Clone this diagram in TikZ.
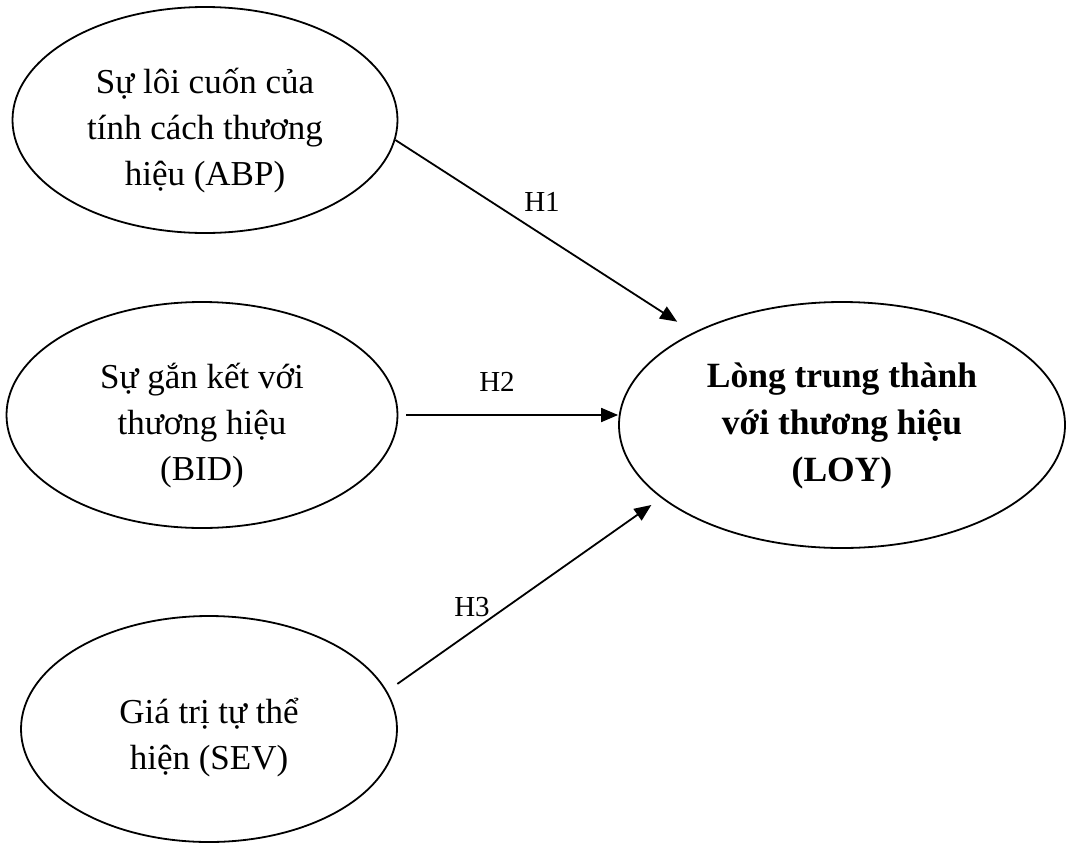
\documentclass[tikz,border=0pt]{standalone}
\usepackage{fontspec}
\setmainfont{Liberation Serif}
\usetikzlibrary{arrows.meta,shapes.geometric,calc}
\newcommand\loweredtext[2]{\raisebox{-#1}[\height][\depth]{\begin{tabular}{@{}c@{}}#2\end{tabular}}}
\begin{document}
\begin{tikzpicture}[x=1pt,y=-1pt,
  construct/.style={draw, ellipse, line width=1.8pt, inner sep=0pt,
    font=\fontsize{35}{46}\selectfont},
  arr/.style={line width=1.8pt, -{Triangle[length=17pt,width=14pt]}},
  hyp/.style={font=\fontsize{29}{34}\selectfont, inner sep=0pt}]
\useasboundingbox (0,0) rectangle (1066,844);
\node[construct, minimum width=385pt, minimum height=226pt] (abp) at (205,120)
  {\loweredtext{10pt}{Sự lôi cuốn của\\tính cách thương\\hiệu (ABP)}};
\node[construct, minimum width=391pt, minimum height=226pt] (bid) at (202,415)
  {\loweredtext{10pt}{Sự gắn kết với\\thương hiệu\\(BID)}};
\node[construct, minimum width=376pt, minimum height=226pt] (sev) at (209,729)
  {\loweredtext{8pt}{Giá trị tự thể\\hiện (SEV)}};
\node[construct, minimum width=446pt, minimum height=246pt,
  font=\bfseries\fontsize{35.5}{47}\selectfont] (loy) at (842,425)
  {\loweredtext{0pt}{Lòng trung thành\\với thương hiệu\\(LOY)}};
\draw[arr, shorten >=19.5pt] (abp.-6.9) -- (loy.148.4);
\draw[arr, shorten <=8pt] (bid.east) -- (bid.east -| loy.west);
\draw[arr, shorten <=12.5pt, shorten >=12pt] (sev.12.4) -- (loy.202.2);
\node[hyp] (h1) at (542,202) {H1};
\node[hyp] (h2) at (497,382) {H2};
\node[hyp] (h3) at (472,607) {H3};
\end{tikzpicture}
\end{document}
